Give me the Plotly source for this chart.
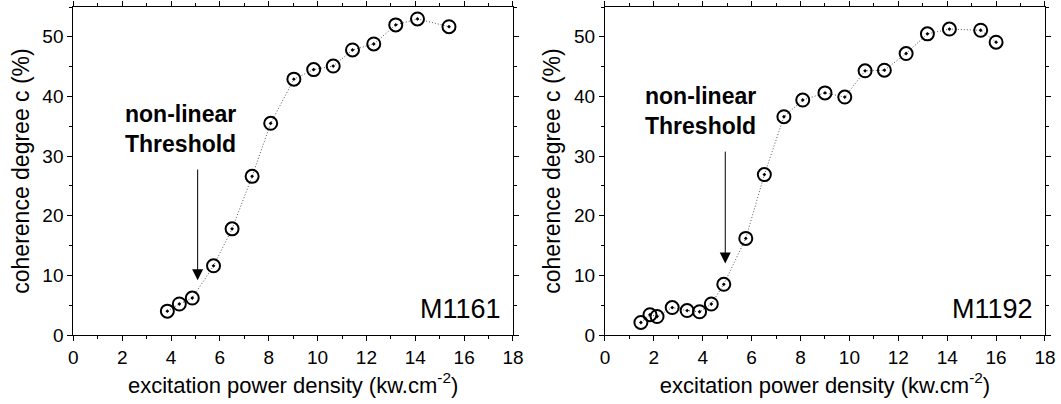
"""
Coherence degree vs excitation power density for samples M1161 and M1192.
"""
import plotly.graph_objects as go
from plotly.subplots import make_subplots

# M1161 data
m1161_power = [3.85, 4.34, 4.87, 5.74, 6.50, 7.32, 8.08, 9.03, 9.84, 10.64, 11.43, 12.30, 13.20, 14.09, 15.38]
m1161_coherence = [4.0, 5.2, 6.2, 11.6, 17.8, 26.6, 35.5, 42.9, 44.5, 45.1, 47.8, 48.8, 52.0, 53.0, 51.7]

# M1192 data
m1192_power = [1.47, 1.84, 2.13, 2.75, 3.36, 3.87, 4.35, 4.86, 5.76, 6.52, 7.32, 8.09, 9.00, 9.81,
               10.64, 11.43, 12.32, 13.19, 14.09, 15.37, 16.00]
m1192_coherence = [2.1, 3.4, 3.1, 4.6, 4.1, 3.9, 5.2, 8.5, 16.2, 26.9, 36.6, 39.4, 40.6, 39.9,
                   44.3, 44.4, 47.2, 50.5, 51.3, 51.1, 49.1]

sample_names = ["M1161", "M1192"]
threshold_power = [5.09, 4.92]

FONT = "Liberation Sans, Arial, sans-serif"

fig = make_subplots(rows=1, cols=2, horizontal_spacing=0.08)

for i, (xs, ys) in enumerate([(m1161_power, m1161_coherence), (m1192_power, m1192_coherence)]):
    fig.add_trace(go.Scatter(
        x=xs, y=ys,
        mode="lines+markers",
        line=dict(color="#555555", width=1, dash="1px,2px"),
        marker=dict(symbol="circle-open-dot", size=13, color="black",
                    line=dict(color="black", width=2)),
        showlegend=False,
    ), row=1, col=i + 1)

axis_common = dict(
    showline=True, linecolor="black", linewidth=1, mirror="allticks",
    ticks="outside", ticklen=5, tickwidth=1, tickcolor="black",
    showgrid=False, zeroline=False,
    tickfont=dict(family=FONT, size=19, color="black"),
)

domains = [[0.0691, 0.4835], [0.5702, 0.9849]]
for i in range(2):
    xa = "xaxis" if i == 0 else "xaxis2"
    ya = "yaxis" if i == 0 else "yaxis2"
    fig.update_layout(**{
        xa: dict(axis_common, domain=domains[i], range=[0, 18], dtick=2,
                 minor=dict(dtick=1, ticks="outside", ticklen=3, tickcolor="black", showgrid=False),
                 title=dict(text="excitation power density (kw.cm<sup>-2</sup>)",
                            font=dict(family=FONT, size=22, color="black"), standoff=10),
                 automargin=False),
        ya: dict(axis_common, range=[0, 55], dtick=10,
                 minor=dict(dtick=5, ticks="outside", ticklen=3, tickcolor="black", showgrid=False),
                 title=dict(text="coherence degree c (%)",
                            font=dict(family=FONT, size=23, color="black"), standoff=6),
                 automargin=False),
    })

annotations = []
for i in range(2):
    xref = "x" if i == 0 else "x2"
    yref = "y" if i == 0 else "y2"
    annotations.append(dict(
        x=17.6, y=1.5, xref=xref, yref=yref, xanchor="right", yanchor="bottom",
        text=sample_names[i], showarrow=False,
        font=dict(family=FONT, size=27, color="black"),
    ))

# threshold arrows
annotations.append(dict(x=threshold_power[0], y=9.2, ax=threshold_power[0], ay=28.0,
                        xref="x", yref="y", axref="x", ayref="y", text="",
                        showarrow=True, arrowhead=2, arrowsize=2.2, arrowwidth=1,
                        arrowcolor="black"))
annotations.append(dict(x=threshold_power[1], y=12.0, ax=threshold_power[1], ay=31.0,
                        xref="x2", yref="y2", axref="x2", ayref="y2", text="",
                        showarrow=True, arrowhead=2, arrowsize=2.2, arrowwidth=1,
                        arrowcolor="black"))
annotations.append(dict(x=2.03, y=34.6, xref="x", yref="y", xanchor="left", yanchor="middle",
                        text="<b>non-linear<br>Threshold</b>", showarrow=False, align="left",
                        font=dict(family=FONT, size=23, color="black")))
annotations.append(dict(x=1.54, y=37.6, xref="x2", yref="y2", xanchor="left", yanchor="middle",
                        text="<b>non-linear<br>Threshold</b>", showarrow=False, align="left",
                        font=dict(family=FONT, size=23, color="black")))

fig.update_layout(
    width=1061, height=404,
    margin=dict(l=0, r=0, t=7, b=69),
    paper_bgcolor="white", plot_bgcolor="white",
    annotations=annotations,
    font=dict(family=FONT, color="black"),
)

# drop the page's default body margin so the figure sits at the window origin
fig.write_html("out.html", config={"displayModeBar": False},
               post_script="document.body.style.margin='0';")
